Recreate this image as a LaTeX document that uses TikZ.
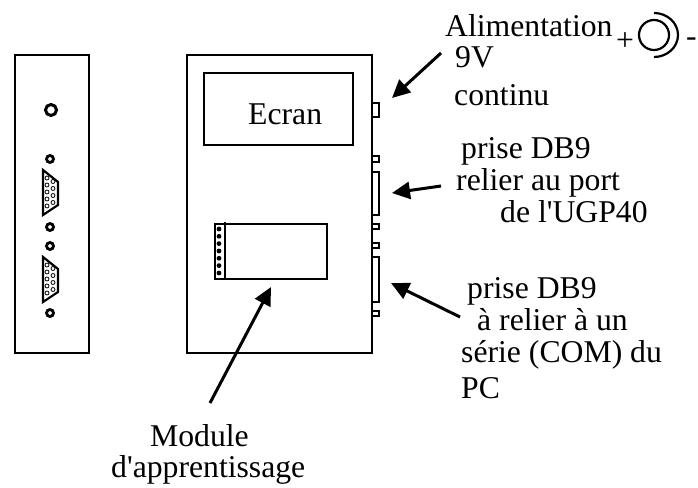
\documentclass[tikz,border=0pt]{standalone}
\usepackage{fontspec}
\setmainfont{Liberation Serif}
\usetikzlibrary{arrows.meta}
\tikzset{
  boxline/.style={line width=2pt},
  smallbox/.style={line width=2pt},
  label/.style={anchor=base west,inner sep=0pt,font=\fontsize{31.7}{36}\selectfont},
  pointer/.style={line width=3pt,-{Triangle[length=18pt,width=17pt]}}
}
\begin{document}
\begin{tikzpicture}[x=1pt,y=-1pt]
\useasboundingbox (0,0) rectangle (698,487);
% side view
\draw[boxline] (15,55) rectangle (89,353);
\draw[line width=3pt] (51,110) circle[radius=5.5pt];
\foreach \y in {159,227,246,313} \draw[line width=2.8pt] (50,\y) circle[radius=3.5pt];
\begin{scope}
\draw[line width=2.2pt] (43,170) -- (58,182) -- (58,205) -- (43,215) -- cycle;
\foreach \y in {178,185,192,199,206} \draw[line width=0.8pt] (47,\y) circle[radius=2pt];
\foreach \y in {181.5,188.5,195.5,202.5} \draw[line width=0.8pt] (53,\y) circle[radius=2pt];
\end{scope}
\begin{scope}[yshift=-87pt]
\draw[line width=2.2pt] (43,170) -- (58,182) -- (58,205) -- (43,215) -- cycle;
\foreach \y in {178,185,192,199,206} \draw[line width=0.8pt] (47,\y) circle[radius=2pt];
\foreach \y in {181.5,188.5,195.5,202.5} \draw[line width=0.8pt] (53,\y) circle[radius=2pt];
\end{scope}
% front view
\draw[boxline] (187,55) rectangle (372,353);
\draw[boxline] (204,73) rectangle (353,145);
\node[label] (ecran) at (248,124) {Ecran};
\draw[boxline] (215,224) rectangle (327,279);
\draw[boxline] (225,222) -- (225,279);
\foreach \y in {229,236.3,243.6,251,258.3,265.6,273} \fill (219,\y) circle[radius=2.4pt];
% sockets on the right edge
\foreach \a/\b in {103/117,156/162,172/215,224/229,243/248,257/302,311/316}
  \draw[smallbox] (372,\a) rectangle (379,\b);
% power symbol
\draw[line width=2.2pt] (654,35) circle[radius=15pt];
\draw[line width=2.2pt] (654,13) arc[start angle=-90,end angle=90,x radius=24,y radius=22];
\node[label] (plus) at (616,51) {+};
\node[label] (minus) at (686,46) {-};
% labels
\node[label] (alim) at (445,37) {Alimentation};
\node[label] (neufv) at (455,67) {9V};
\node[label] (continu) at (454,105) {continu};
\node[label] (priseA) at (461,158) {prise DB9};
\node[label] (relierA) at (456,190) {relier au port};
\node[label] (ugp) at (500,222) {de l\textquotesingle UGP40};
\node[label] (priseB) at (467,298) {prise DB9};
\node[label] (relierB) at (477,330) {à relier à un};
\node[label] (serie) at (461,362) {série (COM) du};
\node[label] (pc) at (461,398) {PC};
\node[label] (module) at (150,446) {Module};
\node[label] (appr) at (111,477) {d\textquotesingle apprentissage};
% arrows
\coordinate (alimfrom) at (441,53);
\coordinate (alimto) at (392,98);
\coordinate (priseAfrom) at (441,186);
\coordinate (priseAto) at (392,193);
\coordinate (priseBfrom) at (460,317);
\coordinate (priseBto) at (391,283);
\coordinate (modulefrom) at (210,403);
\coordinate (moduleto) at (271,287);
\draw[pointer] (alimfrom) -- (alimto);
\draw[pointer] (priseAfrom) -- (priseAto);
\draw[pointer] (priseBfrom) -- (priseBto);
\draw[pointer] (modulefrom) -- (moduleto);
\end{tikzpicture}
\end{document}
